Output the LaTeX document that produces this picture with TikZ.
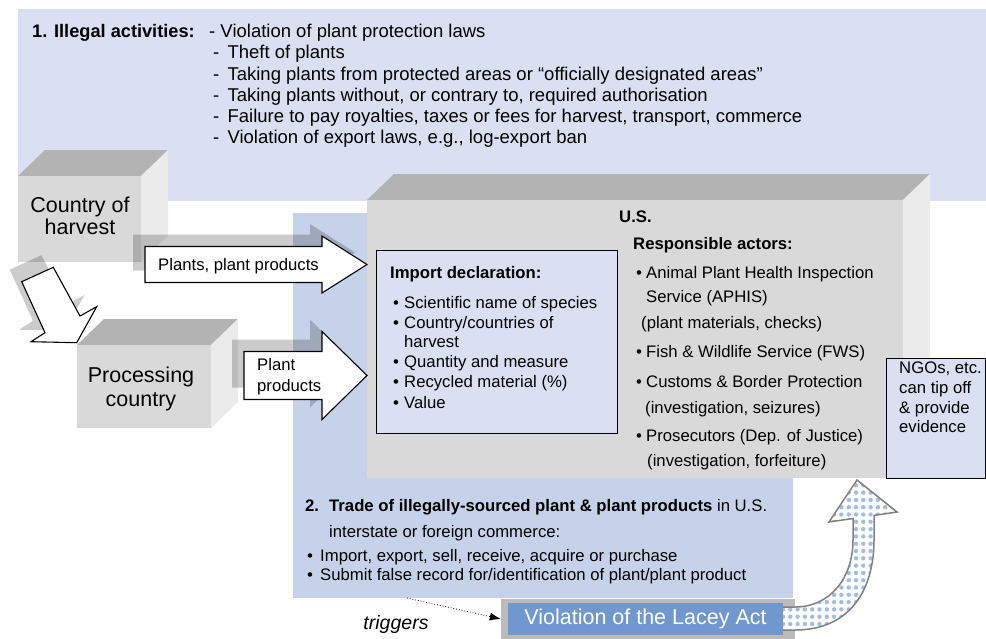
\documentclass[tikz,border=0pt]{standalone}
\usepackage{fontspec}
\setmainfont{Liberation Sans}
\usetikzlibrary{arrows.meta}
\definecolor{toppanel}{RGB}{218,224,242}
\definecolor{midpanel}{RGB}{198,210,233}
\definecolor{boxfront}{RGB}{217,217,217}
\definecolor{boxtop}{RGB}{179,179,179}
\definecolor{boxside}{RGB}{235,235,235}
\definecolor{declfill}{RGB}{218,224,242}
\definecolor{laceyouter}{RGB}{187,187,187}
\definecolor{laceyblue}{RGB}{112,152,207}
\definecolor{dotblue}{RGB}{164,187,228}
\definecolor{arrowgray}{RGB}{128,128,128}
\newcommand\myfs[1]{\fontsize{#1}{#1}\selectfont}
\newcommand\mycube[4]{%
  \fill[boxtop] (#1,#2) -- (#3,#2) -- (#3+27,#2-26) -- (#1+27,#2-26) -- cycle;
  \fill[boxside] (#3,#2) -- (#3+27,#2-26) -- (#3+27,#4-26) -- (#3,#4) -- cycle;
  \fill[boxfront] (#1,#2) rectangle (#3,#4);}
\newcommand\arrowOne[1]{\path[#1] (145,246.5) -- (322,246.5) -- (322,236) -- (367,264.5) -- (322,293) -- (322,282.5) -- (145,282.5) -- cycle;}
\newcommand\arrowTwo[1]{\path[#1] (244,351.5) -- (322,351.5) -- (322,331.5) -- (367,375.5) -- (322,419.5) -- (322,399.5) -- (244,399.5) -- cycle;}
\newcommand\arrowDiag[1]{\path[#1] (21.7,281.7) -- (53.3,267.3) -- (80,316) -- (96.7,306.7) -- (76.7,342.7) -- (31,341.7) -- (45,332.7) -- cycle;}
\begin{document}
\begin{tikzpicture}[x=1pt,y=-1pt,
  txt/.style={anchor=base west, inner sep=0pt, font=\myfs{16.7}},
  toptxt/.style={anchor=base west, inner sep=0pt, font=\myfs{18.5}},
  bigtxt/.style={anchor=base, inner sep=0pt, font=\myfs{21.5}},
  blockarrow/.style={fill=white, draw=black, line width=1.1pt, line join=miter},
  arrowshadow/.style={fill=black, fill opacity=0.2, draw=none},
  infobox/.style={fill=declfill, draw=black, line width=1.1pt, inner sep=0pt, anchor=north west}
]
\useasboundingbox (0,0) rectangle (986,638);
\fill[white] (0,0) rectangle (986,638);

% panels
\fill[toppanel] (18,9) rectangle (986,201);
\fill[midpanel] (293,213) rectangle (793,598);

% top text
\node[toptxt, font=\myfs{18.2}\bfseries] (illegal) at (32,37.7) {1. Illegal activities:};
\node[toptxt] (il1) at (209,37.7) {- Violation of plant protection laws};
\node[toptxt] (il2) at (213,58.9) {- \,Theft of plants};
\node[toptxt] (il3) at (213,80.1) {- \,Taking plants from protected areas or “officially designated areas”};
\node[toptxt] (il4) at (213,101.3) {- \,Taking plants without, or contrary to, required authorisation};
\node[toptxt] (il5) at (213,122.5) {- \,Failure to pay royalties, taxes or fees for harvest, transport, commerce};
\node[toptxt] (il6) at (213,143.7) {- \,Violation of export laws, e.g., log-export ban};

% cubes
\mycube{367}{200}{903}{478}
\mycube{18}{176}{141}{262}
\mycube{77}{345}{211}{428}

\node[bigtxt] (c1) at (80,212.7) {Country of};
\node[bigtxt] (c2) at (80,234.7) {harvest};
\node[bigtxt] (p1) at (141,382.7) {Processing};
\node[bigtxt] (p2) at (141,406.7) {country};

% arrow shadows and arrows
\begin{scope}[shift={(-12,-12)}]
\arrowOne{arrowshadow}
\arrowTwo{arrowshadow}
\arrowDiag{arrowshadow}
\end{scope}
\arrowOne{blockarrow}
\arrowTwo{blockarrow}
\arrowDiag{blockarrow}
\node[txt] (a1) at (158,270) {Plants, plant products};
\node[txt] (a2) at (257,370) {Plant};
\node[txt] (a3) at (257,391) {products};

% import declaration
\node[infobox, minimum width=241, minimum height=183] (decl) at (376,250) {};
\node[txt, font=\myfs{16.7}\bfseries] (d0) at (390,278) {Import declaration:};
\node[txt] (d1b) at (393,308) {•};
\node[txt] (d1) at (404,308) {Scientific name of species};
\node[txt] (d2b) at (393,328) {•};
\node[txt] (d2) at (404,328) {Country/countries of};
\node[txt] (d2c) at (404,347.5) {harvest};
\node[txt] (d3b) at (393,367) {•};
\node[txt] (d3) at (404,367) {Quantity and measure};
\node[txt] (d4b) at (393,387) {•};
\node[txt] (d4) at (404,387) {Recycled material (\%)};
\node[txt] (d5b) at (393,408) {•};
\node[txt] (d5) at (404,408) {Value};

% US text
\node[txt, font=\myfs{16.7}\bfseries] (us) at (619,222) {U.S.};
\node[txt, font=\myfs{16.7}\bfseries] (resp) at (633,249) {Responsible actors:};
\node[txt] (r1b) at (636,278) {•};
\node[txt] (r1) at (646,278) {Animal Plant Health Inspection};
\node[txt] (r1c) at (646,302) {Service (APHIS)};
\node[txt] (r1d) at (641,328) {(plant materials, checks)};
\node[txt] (r2b) at (636,357) {•};
\node[txt] (r2) at (646,357) {Fish \& Wildlife Service (FWS)};
\node[txt] (r3b) at (636,387) {•};
\node[txt] (r3) at (646,387) {Customs \& Border Protection};
\node[txt] (r3c) at (645,413) {(investigation, seizures)};
\node[txt] (r4b) at (636,441) {•};
\node[txt] (r4) at (646,441) {Prosecutors (Dep. of Justice)};
\node[txt] (r4c) at (647,466) {(investigation, forfeiture)};

% NGO box
\node[infobox, minimum width=99, minimum height=120] (ngo) at (886,358) {};
\node[txt] (n1) at (899,373) {NGOs, etc.};
\node[txt] (n2) at (899,393) {can tip off};
\node[txt] (n3) at (899,413) {\& provide};
\node[txt] (n4) at (899,432) {evidence};

% section 2 text
\node[txt, font=\myfs{16.7}\bfseries] (s2n) at (305,511) {2.};
\node[txt] (s2a) at (329,511) {\textbf{Trade of illegally-sourced plant \& plant products} in U.S.};
\node[txt] (s2b) at (329,537) {interstate or foreign commerce:};
\node[txt] (s2cb) at (307,561) {•};
\node[txt] (s2c) at (320,561) {Import, export, sell, receive, acquire or purchase};
\node[txt] (s2db) at (307,580) {•};
\node[txt] (s2d) at (320,580) {Submit false record for/identification of plant/plant product};

% Lacey box
\node[fill=laceyouter, minimum width=294, minimum height=40, inner sep=0pt] (lacey) at (648,619) {};
% curved arrow
\begin{scope}
\clip (783,630) -- (795,630) .. controls (850,630) and (874,590) .. (874,540) -- (874,515.4) -- (897,512) -- (857,480) -- (829,522) -- (853,518.5) -- (853,540) .. controls (853,578) and (830,607) .. (795,607) -- (783,607) -- cycle;
\fill[white] (780,470) rectangle (900,640);
\foreach \i in {0,...,17}
  \foreach \j in {0,...,23}
    \fill[dotblue] (783+\i*7.3, 478+\j*7.3) circle (2.2pt);
\end{scope}
\draw[arrowgray, line width=1.5pt, line join=miter] (783,630) -- (795,630) .. controls (850,630) and (874,590) .. (874,540) -- (874,515.4) -- (897,512) -- (857,480) -- (829,522) -- (853,518.5) -- (853,540) .. controls (853,578) and (830,607) .. (795,607) -- (783,607);
\node[fill=laceyblue, minimum width=275, minimum height=32, inner sep=0pt, text=white, font=\myfs{21.5}] (laceyin) at (645.5,619) {Violation of the Lacey Act};

% triggers
\coordinate (trigstart) at (407,598);
\draw[dotted, line width=0.8pt, -{Latex[length=11pt,width=8pt]}] (trigstart) -- (lacey.west);
\node[anchor=base, inner sep=0pt, font=\myfs{19.5}\itshape] (trig) at (396,629) {triggers};
\end{tikzpicture}
\end{document}
